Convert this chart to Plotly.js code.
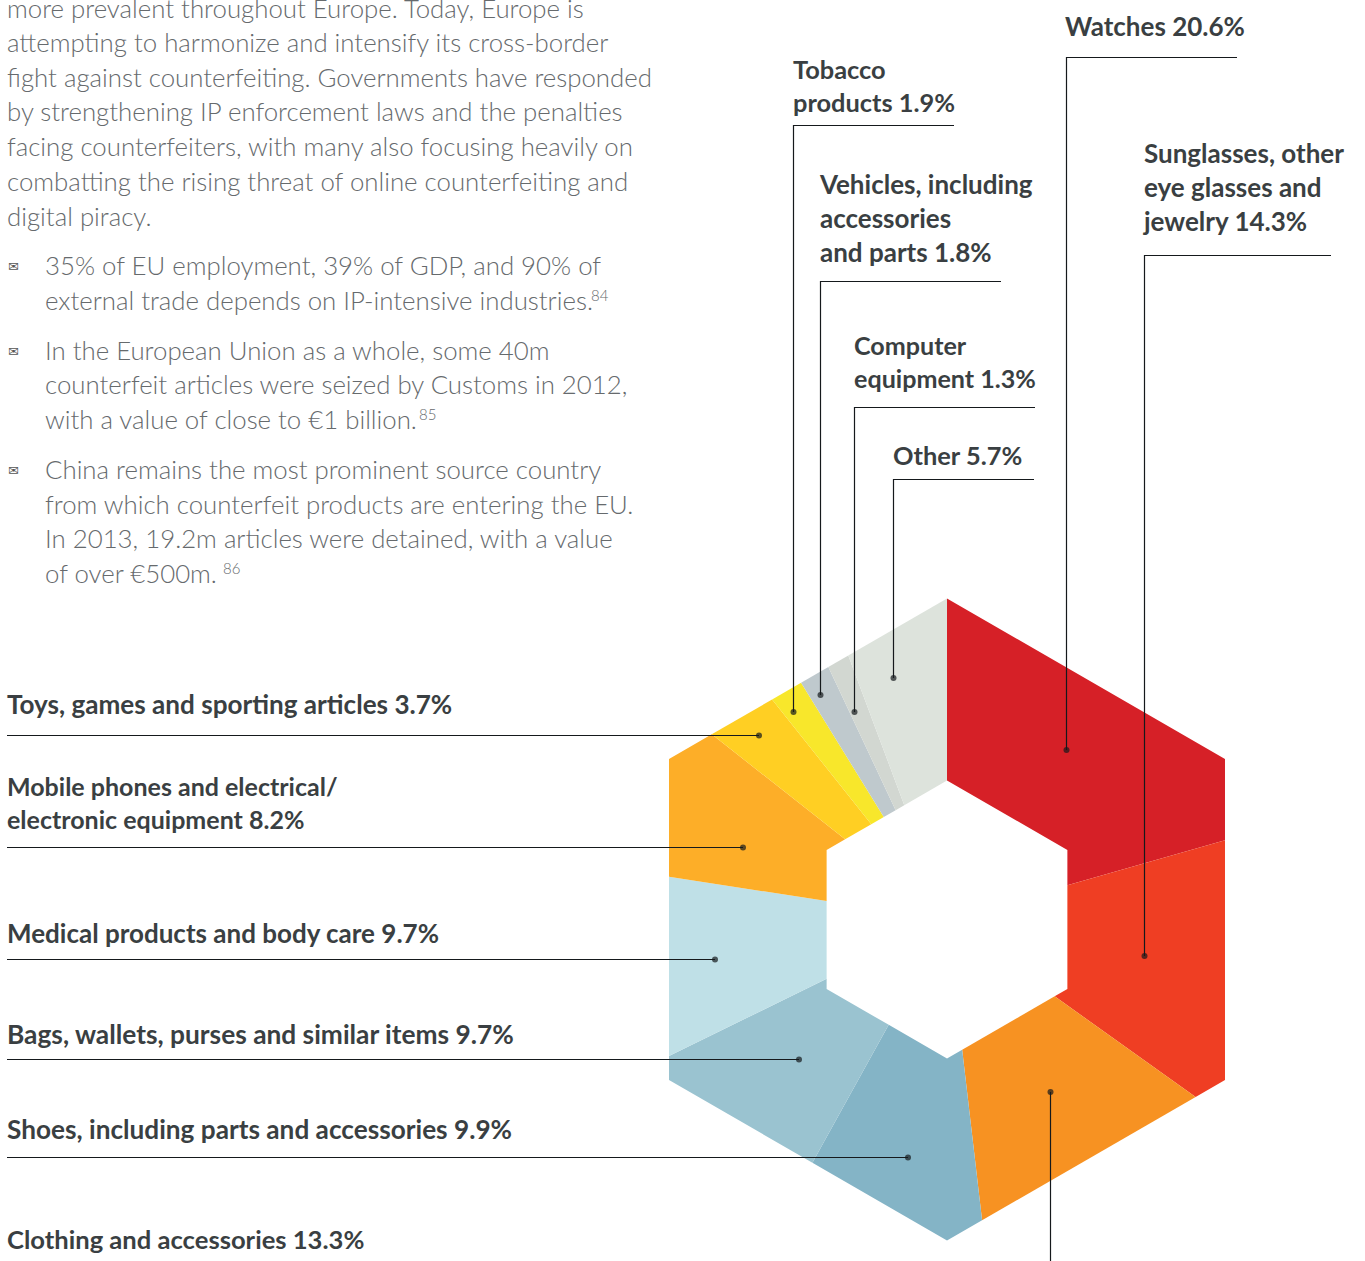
<!DOCTYPE html>
<html><head><meta charset="utf-8">
<script src="https://cdn.plot.ly/plotly-3.0.1.min.js"></script>
<style>html,body{margin:0;padding:0;background:#fff;overflow:hidden}#c{width:1365px;height:1261px}</style>
</head><body><div id="c"></div>
<script>
const categories=["Watches","Sunglasses, other eye glasses and jewelry","Clothing and accessories","Shoes, including parts and accessories","Bags, wallets, purses and similar items","Medical products and body care","Mobile phones and electrical/electronic equipment","Toys, games and sporting articles","Tobacco products","Vehicles, including accessories and parts","Computer equipment","Other"];
const shares=[20.6,14.3,13.3,9.9,9.7,9.7,8.2,3.7,1.9,1.8,1.3,5.7];
const colors=["#d62027","#ef3e23","#f79222","#84b4c6","#9ac3d0","#bfe0e7","#fdae28","#ffcf23","#f8e72b","#bfc9cd","#d2d7d1","#dde3dc"];
const labelTexts=["Watches 20.6%","Sunglasses, other<br>eye glasses and<br>jewelry 14.3%","Clothing and accessories 13.3%","Shoes, including parts and accessories 9.9%","Bags, wallets, purses and similar items 9.7%","Medical products and body care 9.7%","Mobile phones and electrical/<br>electronic equipment 8.2%","Toys, games and sporting articles 3.7%","Tobacco<br>products 1.9%","Vehicles, including<br>accessories<br>and parts 1.8%","Computer<br>equipment 1.3%","Other 5.7%"];
const labelX=[1063,1141,5,5,5,5,5,5,791,817,852,891];
const labelY=[26,186.5,1239,1129,1034,933,802,704,85,217.5,361,455];
const labelSize=[26,26,25.6,26.2,26.3,26,25,26.1,25.4,26,25.1,25.4];
const leaderX=[[1237,1066.5,1066.5],[1331,1144.5,1144.5],[1050.5,1050.5],[7,908],[7,799],[7,715],[7,743],[7,759],[954,793.5,793.5],[1001,820.5,820.5],[1035,854.5,854.5],[1034,893.5,893.5]];
const leaderY=[[57.5,57.5,750],[255.5,255.5,956],[1261,1092],[1157.5,1157.5],[1059.5,1059.5],[959.5,959.5],[847.5,847.5],[735.5,735.5],[125.5,125.5,712],[281.5,281.5,695],[407.5,407.5,712],[479.5,479.5,678]];
const paraLines=["more prevalent throughout Europe. Today, Europe is","attempting to harmonize and intensify its cross-border","fight against counterfeiting. Governments have responded","by strengthening IP enforcement laws and the penalties","facing counterfeiters, with many also focusing heavily on","combatting the rising threat of online counterfeiting and","digital piracy."];
const paraY=[8,42,77,111,146,181,216];
const bulletLines=["35% of EU employment, 39% of GDP, and 90% of","external trade depends on IP-intensive industries.","In the European Union as a whole, some 40m","counterfeit articles were seized by Customs in 2012,","with a value of close to €1 billion.","China remains the most prominent source country","from which counterfeit products are entering the EU.","In 2013, 19.2m articles were detained, with a value","of over €500m."];
const bulletY=[265,300,350,384,419,469,504,538,573];
const markY=[266,351,470];
const noteTexts=["84","85","86"];
const noteX=[589,417,221];
const noteY=[295,414,568];
const CX=947,CY=919.5,RO=321,RI=139;
function hexRad(deg){
  const a=((deg%60)+60)%60; return Math.cos(Math.PI/6)/Math.cos((a-30)*Math.PI/180);
}
function pt(deg,R){const r=hexRad(deg)*R,t=deg*Math.PI/180;return [CX+r*Math.sin(t),CY-r*Math.cos(t)];}
function slice(a0,a1){
  const angs=[a0];
  for(let v=Math.ceil(a0/60+1e-9)*60;v<a1-1e-9;v+=60)angs.push(v);
  angs.push(a1);
  const xs=[],ys=[];
  angs.forEach(a=>{const p=pt(a,RO);xs.push(p[0]);ys.push(p[1]);});
  angs.slice().reverse().forEach(a=>{const p=pt(a,RI);xs.push(p[0]);ys.push(p[1]);});
  xs.push(xs[0]);ys.push(ys[0]);
  return {xs,ys};
}
const total=shares.reduce((a,b)=>a+b,0);
let cum=0;const traces=[];
shares.forEach((s,i)=>{
  const a0=cum/total*360;cum+=s;const a1=cum/total*360;
  const p=slice(a0,a1);
  traces.push({type:"scatter",mode:"lines",x:p.xs,y:p.ys,fill:"toself",fillcolor:colors[i],line:{width:0,color:colors[i]},name:categories[i],hoverinfo:"name",showlegend:false});
});
leaderX.forEach((lx,i)=>{
  const n=lx.length;
  traces.push({type:"scatter",mode:"lines+markers",x:lx,y:leaderY[i],line:{color:"#15191c",width:1.2},
    marker:{size:lx.map((_,k)=>k===n-1?6:0),color:"#15191c",line:{width:0}},hoverinfo:"skip",showlegend:false,cliponaxis:false});
});
const BF="Lato",TXT="#3a3f42",GREY="#666a6d";
const ann=[];
labelTexts.forEach((t,i)=>ann.push({x:labelX[i],y:labelY[i],text:t,xanchor:"left",yanchor:"middle",align:"left",showarrow:false,font:{family:BF,size:labelSize[i],color:TXT,weight:700},xref:"x",yref:"y"}));
paraLines.forEach((t,i)=>ann.push({x:5,y:paraY[i],text:t,xanchor:"left",yanchor:"middle",align:"left",showarrow:false,font:{family:BF,size:25.8,color:GREY,weight:300},xref:"x",yref:"y"}));
bulletLines.forEach((t,i)=>ann.push({x:43,y:bulletY[i],text:t,xanchor:"left",yanchor:"middle",align:"left",showarrow:false,font:{family:BF,size:25.8,color:GREY,weight:300},xref:"x",yref:"y"}));
noteTexts.forEach((t,i)=>ann.push({x:noteX[i],y:noteY[i],text:t,xanchor:"left",yanchor:"middle",align:"left",showarrow:false,font:{family:BF,size:15,color:GREY,weight:300},xref:"x",yref:"y"}));
markY.forEach(y=>ann.push({x:6,y:y,text:"✉",xanchor:"left",yanchor:"middle",showarrow:false,font:{family:"DejaVu Sans",size:13,color:"#555"},xref:"x",yref:"y"}));
Plotly.newPlot("c",traces,{width:1365,height:1261,margin:{l:0,r:0,t:0,b:0},paper_bgcolor:"#fff",plot_bgcolor:"#fff",
 xaxis:{range:[0,1365],visible:false,fixedrange:true},yaxis:{range:[1261,0],visible:false,fixedrange:true},annotations:ann,showlegend:false,hovermode:"closest"},{displayModeBar:false});
</script></body></html>
